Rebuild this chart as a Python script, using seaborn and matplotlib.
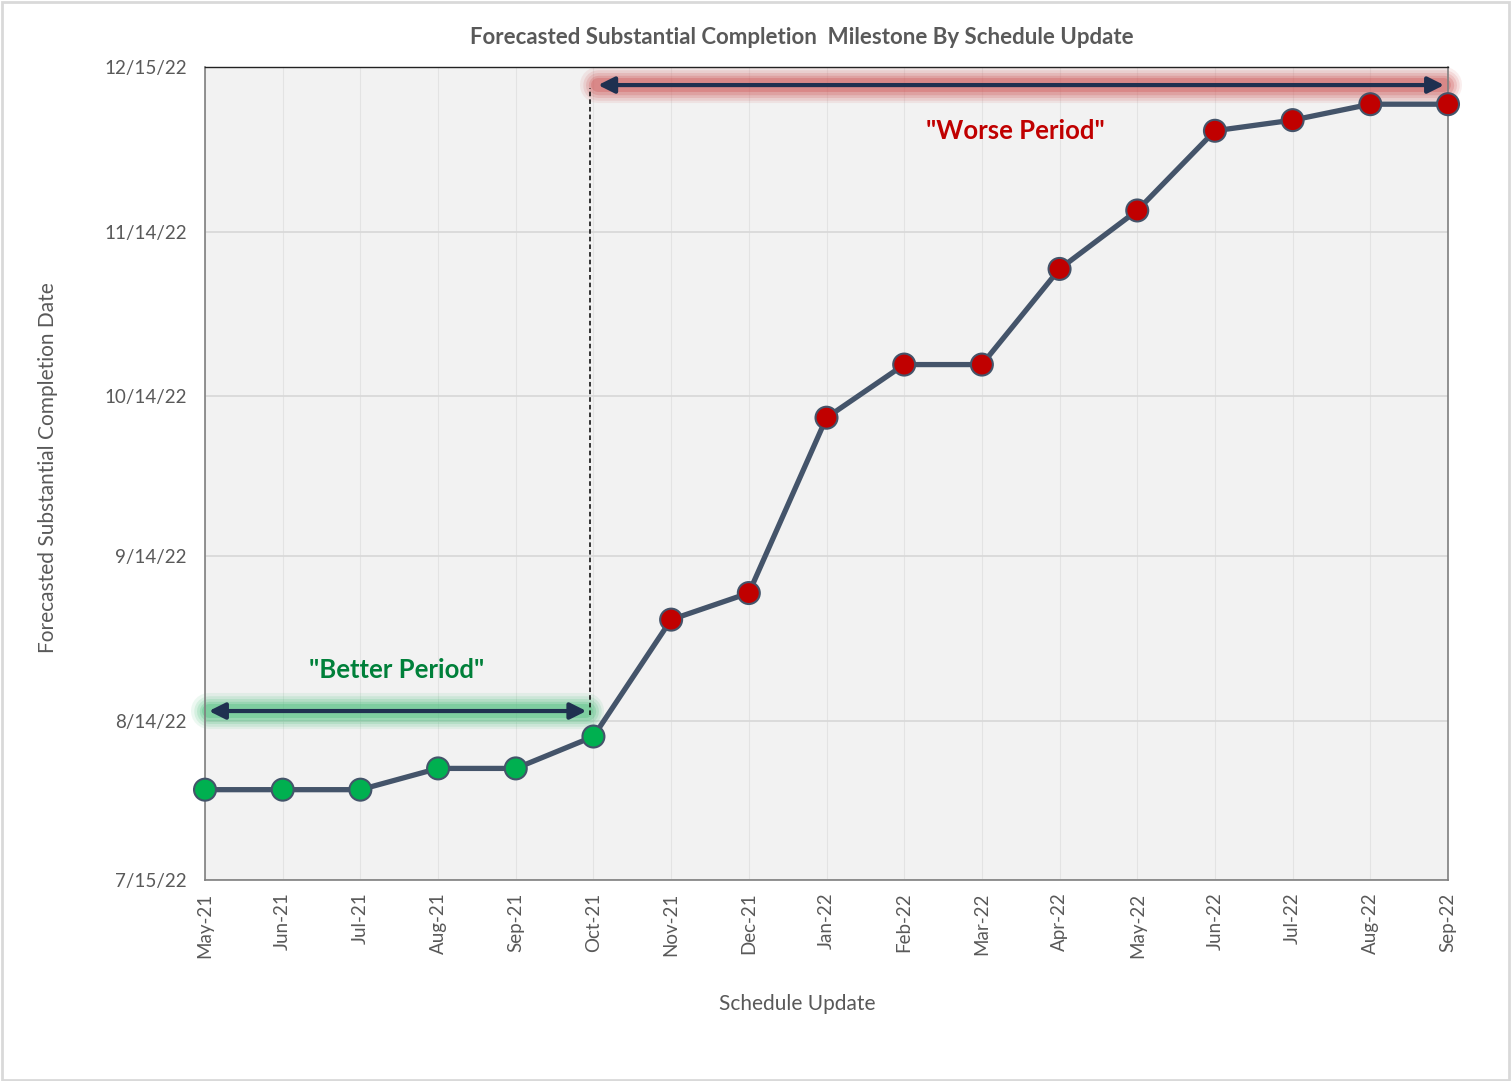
import matplotlib
matplotlib.use("Agg")
import matplotlib.pyplot as plt
import matplotlib.dates as mdates
import seaborn as sns
import pandas as pd
import numpy as np
from matplotlib.patches import Rectangle

# ---------------- data ----------------
updates = ["May-21", "Jun-21", "Jul-21", "Aug-21", "Sep-21", "Oct-21", "Nov-21",
           "Dec-21", "Jan-22", "Feb-22", "Mar-22", "Apr-22", "May-22", "Jun-22",
           "Jul-22", "Aug-22", "Sep-22"]
forecast_dates = ["2022-08-01", "2022-08-01", "2022-08-01", "2022-08-05", "2022-08-05",
                  "2022-08-11", "2022-09-02", "2022-09-07", "2022-10-10", "2022-10-20",
                  "2022-10-20", "2022-11-07", "2022-11-18", "2022-12-03", "2022-12-05",
                  "2022-12-08", "2022-12-08"]
periods = ["Better"] * 6 + ["Worse"] * 11
y_ticks = ["2022-07-15", "2022-08-14", "2022-09-14", "2022-10-14", "2022-11-14", "2022-12-15"]

title = "Forecasted Substantial Completion  Milestone By Schedule Update"
xlabel = "Schedule Update"
ylabel = "Forecasted Substantial Completion Date"

df = pd.DataFrame({"idx": np.arange(len(updates)),
                   "update": updates,
                   "date": pd.to_datetime(forecast_dates),
                   "period": periods})

# ---------------- style ----------------
sns.set_theme(style="white")
plt.rcParams["font.family"] = ["Lato", "DejaVu Sans"]

W, H = 1511, 1081
fig = plt.figure(figsize=(W / 100, H / 100), dpi=100)
ax = fig.add_axes([205 / W, 1 - 880 / H, (1448 - 205) / W, (880 - 67) / H])
ax.set_facecolor("#F2F2F2")

text_gray = "#595959"
line_col = "#44546A"
navy = "#1F3050"

# gridlines
ax.set_axisbelow(True)
ax.yaxis.grid(True, color="#D9D9D9", linewidth=1.3)
ax.xaxis.grid(True, color="#E3E3E3", linewidth=0.8)

sns.lineplot(data=df, x="idx", y="date", ax=ax, color=line_col, linewidth=3.8,
             zorder=3, legend=False)
sns.scatterplot(data=df, x="idx", y="date", hue="period", ax=ax,
                palette={"Better": "#00B050", "Worse": "#C00000"},
                s=250, edgecolor=line_col, linewidth=1.5, zorder=4, legend=False,
                clip_on=False)

# axes limits / ticks
ymin, ymax = pd.Timestamp(y_ticks[0]), pd.Timestamp(y_ticks[-1])
ax.set_ylim(mdates.date2num(ymin), mdates.date2num(ymax))
ax.set_yticks(mdates.date2num(pd.to_datetime(y_ticks)))
ax.yaxis.set_major_formatter(
    matplotlib.ticker.FuncFormatter(
        lambda v, p: (lambda d: f"{d.month}/{d.day}/{d.strftime('%y')}")(mdates.num2date(v))))
ax.set_xlim(0, len(updates) - 1)
ax.set_xticks(df["idx"])
ax.set_xticklabels(updates, rotation=90)
ax.tick_params(axis="both", length=0, labelsize=13.5, labelcolor=text_gray)
ax.tick_params(axis="y", pad=13)
ax.tick_params(axis="x", pad=9)

for side in ["left", "bottom", "right"]:
    ax.spines[side].set_color("#7F7F7F")
    ax.spines[side].set_linewidth(1.2)
ax.spines["top"].set_color("#222222")
ax.spines["top"].set_linewidth(1.0)

ax.set_xlabel(xlabel, fontsize=15, color=text_gray)
ax.set_ylabel(ylabel, fontsize=15, color=text_gray)
ax.xaxis.set_label_coords((797 - 205) / (1448 - 205), -(994 - 880) / (880 - 67))
ax.yaxis.set_label_coords(-(205 - 58) / (1448 - 205), (880 - 468) / (880 - 67))
fig.text(802 / W, 1 - 38 / H, title, ha="center", va="center", fontsize=16,
         fontweight="bold", color=text_gray)

# ---------------- annotations ----------------
d2n = lambda s: mdates.date2num(pd.Timestamp(s))

def glow_arrow(x0, x1, y, glow):
    for lw, a in [(26, 0.10), (22, 0.14), (18, 0.18), (14, 0.25), (10, 0.35)]:
        ax.plot([x0, x1], [y, y], color=glow, linewidth=lw, alpha=a,
                solid_capstyle="round", zorder=2.5, clip_on=False)
    ax.annotate("", xy=(x1, y), xytext=(x0, y),
                arrowprops=dict(arrowstyle="<|-|>", color=navy, lw=3.0,
                                mutation_scale=24, shrinkA=0, shrinkB=0),
                zorder=3.5, annotation_clip=False)

glow_arrow(0.05, 4.91, d2n("2022-08-15") + 0.8, "#4CC07E")
glow_arrow(5.06, 15.95, d2n("2022-12-12") - 0.4, "#D05A5A")

ax.plot([4.96, 4.96], [d2n("2022-08-15"), d2n("2022-12-11")], color="black",
        linestyle=(0, (3, 2)), linewidth=1.1, zorder=2.6)

ax.text(2.47, d2n("2022-08-23") + 0.5, "\"Better Period\"", ha="center", va="center",
        fontsize=18.5, fontweight="bold", color="#00803A")
ax.text(10.43, d2n("2022-12-03"), "\"Worse Period\"", ha="center", va="center",
        fontsize=18.5, fontweight="bold", color="#C00000")

# outer frame
fig.patches.append(Rectangle((0.001, 0.001), 0.998, 0.997, transform=fig.transFigure,
                             fill=False, edgecolor="#D9D9D9", linewidth=2))

fig.savefig("out.png", dpi=100)
